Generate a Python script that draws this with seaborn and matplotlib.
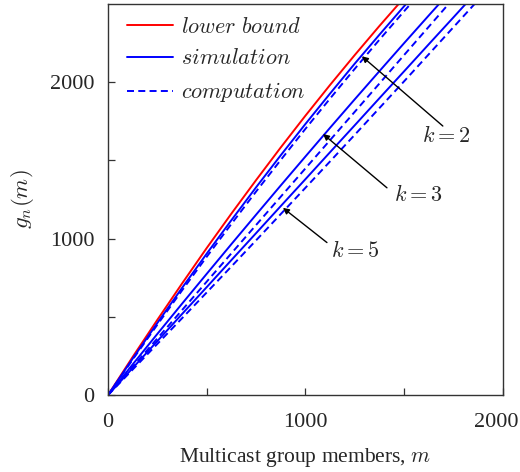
import numpy as np
import pandas as pd
import matplotlib
matplotlib.use("Agg")
import matplotlib.pyplot as plt
import matplotlib.transforms as mtransforms
import seaborn as sns
from matplotlib.lines import Line2D

# ---- data ----
m = [0, 125, 250, 375, 500, 625, 750, 875, 1000, 1125, 1250, 1375, 1500,
     1625, 1750, 1875, 2000]
lower_bound = [0, 244, 481, 713, 940, 1160, 1374, 1583, 1786, 1983, 2174,
               2360, 2540]
sim_k2 = [0, 233, 461, 685, 904, 1118, 1328, 1533, 1733, 1928, 2119, 2304,
          2486, 2662]
comp_k2 = [0, 227, 450, 669, 884, 1094, 1301, 1503, 1702, 1896, 2086, 2272,
           2454, 2632]
sim_k3 = [0, 196, 391, 584, 775, 965, 1153, 1340, 1525, 1709, 1891, 2071,
          2250, 2427, 2603]
comp_k3 = [0, 181, 362, 543, 725, 906, 1087, 1268, 1449, 1630, 1811, 1992,
           2174, 2355, 2536]
sim_k5 = [0, 173, 345, 518, 690, 863, 1035, 1208, 1380, 1553, 1725, 1898,
          2070, 2243, 2415, 2588]
comp_k5 = [0, 163, 327, 491, 656, 822, 989, 1157, 1325, 1494, 1664, 1835,
           2006, 2179, 2352, 2525]

x_ticks = [0, 1000, 2000]
y_ticks = [0, 1000, 2000]
legend_labels = ["lower bound", "simulation", "computation"]
k_labels = ["$k=2$", "$k=3$", "$k=5$"]

sns.set_style("ticks")
plt.rcParams["font.family"] = ["Liberation Serif", "DejaVu Serif"]
plt.rcParams["mathtext.fontset"] = "cm"

fs = 16
fig = plt.figure(figsize=(5.2, 4.72), dpi=100)
ax = fig.add_axes([0.2077, 0.163, 0.7593, 0.8285])

red = "#ff0000"
blue = "#0000ff"
lw = 1.4
dash = (0, (3.6, 2.2))

series = [
    (lower_bound, red, "-"),
    (sim_k2, blue, "-"),
    (comp_k2, blue, dash),
    (sim_k3, blue, "-"),
    (comp_k3, blue, dash),
    (sim_k5, blue, "-"),
    (comp_k5, blue, dash),
]
for vals, col, ls in series:
    df = pd.DataFrame({"m": m[:len(vals)], "g": vals})
    sns.lineplot(data=df, x="m", y="g", ax=ax, color=col, linewidth=lw,
                 linestyle=ls, sort=False)

ax.set_xlim(0, 2000)
ax.set_ylim(0, 2500)
ax.set_xticks(x_ticks)
ax.set_yticks(y_ticks)
ax.set_xticks([500, 1500], minor=True)
ax.set_yticks([500, 1500], minor=True)
ax.tick_params(which="both", direction="in", length=5, width=0.9,
               color="#333333", top=False, right=False)
ax.tick_params(axis="x", which="major", pad=13, labelsize=fs)
ax.tick_params(axis="y", which="major", pad=10, labelsize=fs)
for s in ax.spines.values():
    s.set_linewidth(1.0)
    s.set_color("#333333")

# nudge last x tick label so it stays inside the figure
fig.canvas.draw()
lbls = ax.get_xticklabels()
lbls[-1].set_transform(lbls[-1].get_transform() +
                       mtransforms.ScaledTranslation(-7 / 100, 0, fig.dpi_scale_trans))

ax.set_xlabel("Multicast group members, $m$", fontsize=15.5, labelpad=10)
ax.set_ylabel("$g_n(m)$", fontsize=16.5, labelpad=10)

# legend
handles = [
    Line2D([], [], color=red, lw=lw, linestyle="-"),
    Line2D([], [], color=blue, lw=lw, linestyle="-"),
    Line2D([], [], color=blue, lw=lw, linestyle=dash),
]
labs = ["$" + t.replace(" ", r"\ ") + "$" for t in legend_labels]
ax.legend(handles, labs, loc="upper left", frameon=False, fontsize=fs,
          handlelength=2.05, handletextpad=0.4, labelspacing=0.5,
          bbox_to_anchor=(0.02, 0.995), borderaxespad=0.1)

# annotations
arrow_kw = dict(arrowstyle="-|>", color="black", lw=1.0, mutation_scale=9,
                shrinkA=0, shrinkB=0)
ann = [
    ((1286, 2166), (1696, 1720), (1716, 1650), k_labels[0]),
    ((1089, 1669), (1413, 1325), (1570, 1274), k_labels[1]),
    ((886, 1197), (1109, 975), (1251, 917), k_labels[2]),
]
for head, tail, tpos, lab in ann:
    ax.annotate("", xy=head, xytext=tail, arrowprops=arrow_kw)
    ax.text(tpos[0], tpos[1], lab, fontsize=fs, ha="center", va="center")

fig.savefig("out.png", dpi=100)
